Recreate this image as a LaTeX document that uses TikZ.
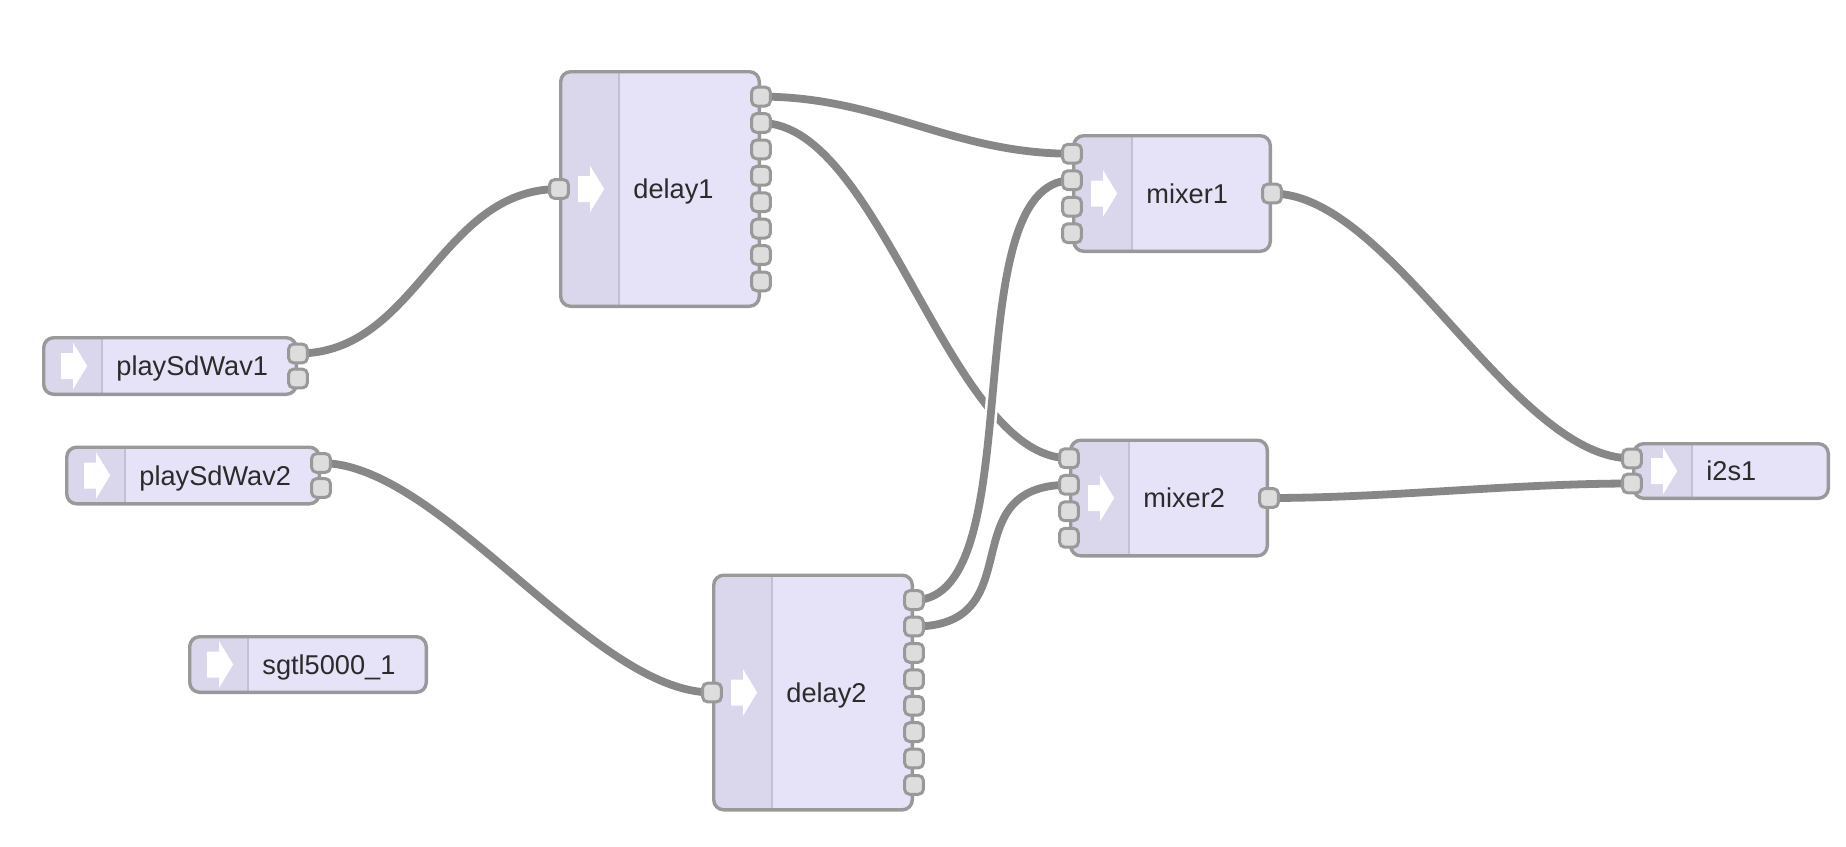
\documentclass[tikz,border=0pt]{standalone}
\usepackage{fontspec}
\setmainfont{Liberation Sans}
\usepackage{tikz}
\definecolor{boxfill}{HTML}{E6E2F7}
\definecolor{stripfill}{HTML}{DAD6EC}
\definecolor{boxline}{HTML}{999999}
\definecolor{divline}{HTML}{C4BFD4}
\definecolor{portfill}{HTML}{DDDDDD}
\definecolor{wirecol}{HTML}{878787}
\definecolor{txtcol}{HTML}{2B2B2B}
\pgfdeclarelayer{wires}
\pgfsetlayers{wires,main}

\begin{document}
\begin{tikzpicture}[
  x=0.5pt, y=-0.5pt,
  module/.style={draw=boxline, line width=1.7pt, fill=boxfill, rounded corners=5pt,
    inner sep=0pt,
    path picture={
      \fill[stripfill, sharp corners] (path picture bounding box.north west)
        rectangle ([xshift=29.25pt]path picture bounding box.south west);
      \draw[divline, line width=1pt, sharp corners]
        ([xshift=29.25pt]path picture bounding box.north west)
        -- ([xshift=29.25pt]path picture bounding box.south west);
      \fill[white, sharp corners] ([xshift=8.75pt, yshift=6.5pt]path picture bounding box.west)
        -- ++(6pt,0) -- ++(0,5pt) -- ++(7pt,-11.5pt) -- ++(-7pt,-11.5pt)
        -- ++(0,5pt) -- ++(-6pt,0) -- cycle;
    }},
  port/.style={draw=boxline, fill=portfill, line width=1.5pt, rounded corners=2.5pt,
    minimum size=9.4pt, inner sep=0pt},
  lbl/.style={anchor=west, inner sep=0pt, text=txtcol, text height=9.7pt, text depth=0pt,
    font=\fontsize{13.6}{16}\selectfont},
  wire/.style={draw=wirecol, line width=3.9pt, preaction={draw=white, line width=6.5pt}}
]
\useasboundingbox (0,0) rectangle (1846,846);

% ---- Players and codec ----
\node[module, minimum width=126.3pt, minimum height=28.3pt] (pw1) at (170,366) {};
\node[lbl] (pw1-t) at ([xshift=37pt]pw1.west) {playSdWav1};
\foreach \i in {0,1} \node[port] (pw1o\i) at ([yshift=(0.5-\i)*12.5pt]pw1.east) {};

\node[module, minimum width=126.3pt, minimum height=28.3pt] (pw2) at (193,475.5) {};
\node[lbl] (pw2-t) at ([xshift=37pt]pw2.west) {playSdWav2};
\foreach \i in {0,1} \node[port] (pw2o\i) at ([yshift=(0.5-\i)*12.5pt]pw2.east) {};

\node[module, minimum width=118.3pt, minimum height=27.8pt] (sg) at (308,664.5) {};
\node[lbl] (sg-t) at ([xshift=37pt]sg.west) {sgtl5000\_1};

% ---- Delays ----
\node[module, minimum width=99.3pt, minimum height=117.3pt] (dl1) at (660,189) {};
\node[lbl] (dl1-t) at ([xshift=37pt]dl1.west) {delay1};
\node[port] (dl1i0) at (dl1.west) {};
\foreach \i in {0,...,7} \node[port] (dl1o\i) at ([yshift=(3.5-\i)*13.2pt]dl1.east) {};

\node[module, minimum width=99.3pt, minimum height=117.3pt] (dl2) at (813,692.5) {};
\node[lbl] (dl2-t) at ([xshift=37pt]dl2.west) {delay2};
\node[port] (dl2i0) at (dl2.west) {};
\foreach \i in {0,...,7} \node[port] (dl2o\i) at ([yshift=(3.5-\i)*13.2pt]dl2.east) {};

% ---- Mixers ----
\node[module, minimum width=98.3pt, minimum height=57.8pt] (mx1) at (1172,193.5) {};
\node[lbl] (mx1-t) at ([xshift=37pt]mx1.west) {mixer1};
\foreach \i in {0,...,3} \node[port] (mx1i\i) at ([yshift=(1.5-\i)*13.25pt]mx1.west) {};
\node[port] (mx1o0) at (mx1.east) {};

\node[module, minimum width=98.3pt, minimum height=57.8pt] (mx2) at (1169,498) {};
\node[lbl] (mx2-t) at ([xshift=37pt]mx2.west) {mixer2};
\foreach \i in {0,...,3} \node[port] (mx2i\i) at ([yshift=(1.5-\i)*13.25pt]mx2.west) {};
\node[port] (mx2o0) at (mx2.east) {};

% ---- Output ----
\node[module, minimum width=97.3pt, minimum height=27.3pt] (i2s) at (1731,471) {};
\node[lbl] (i2s-t) at ([xshift=37pt]i2s.west) {i2s1};
\foreach \i in {0,1} \node[port] (i2si\i) at ([yshift=(0.5-\i)*12.5pt]i2s.west) {};

% ---- Wires ----
\begin{pgfonlayer}{wires}
\draw[wire] (pw1o0.center) .. controls +(120,0) and +(-120,0) .. (dl1i0.center);
\draw[wire] (pw2o0.center) .. controls +(120,0) and +(-120,0) .. (dl2i0.center);
\draw[wire] (dl1o0.center) .. controls +(120,0) and +(-120,0) .. (mx1i0.center);
\draw[wire] (dl1o1.center) .. controls +(120,0) and +(-120,0) .. (mx2i0.center);
\draw[wire] (dl2o0.center) .. controls +(120,0) and +(-120,0) .. (mx1i1.center);
\draw[wire] (dl2o1.center) .. controls +(120,0) and +(-120,0) .. (mx2i1.center);
\draw[wire] (mx1o0.center) .. controls +(120,0) and +(-120,0) .. (i2si0.center);
\draw[wire] (mx2o0.center) .. controls +(120,0) and +(-120,0) .. (i2si1.center);
\end{pgfonlayer}

\end{tikzpicture}
\end{document}
